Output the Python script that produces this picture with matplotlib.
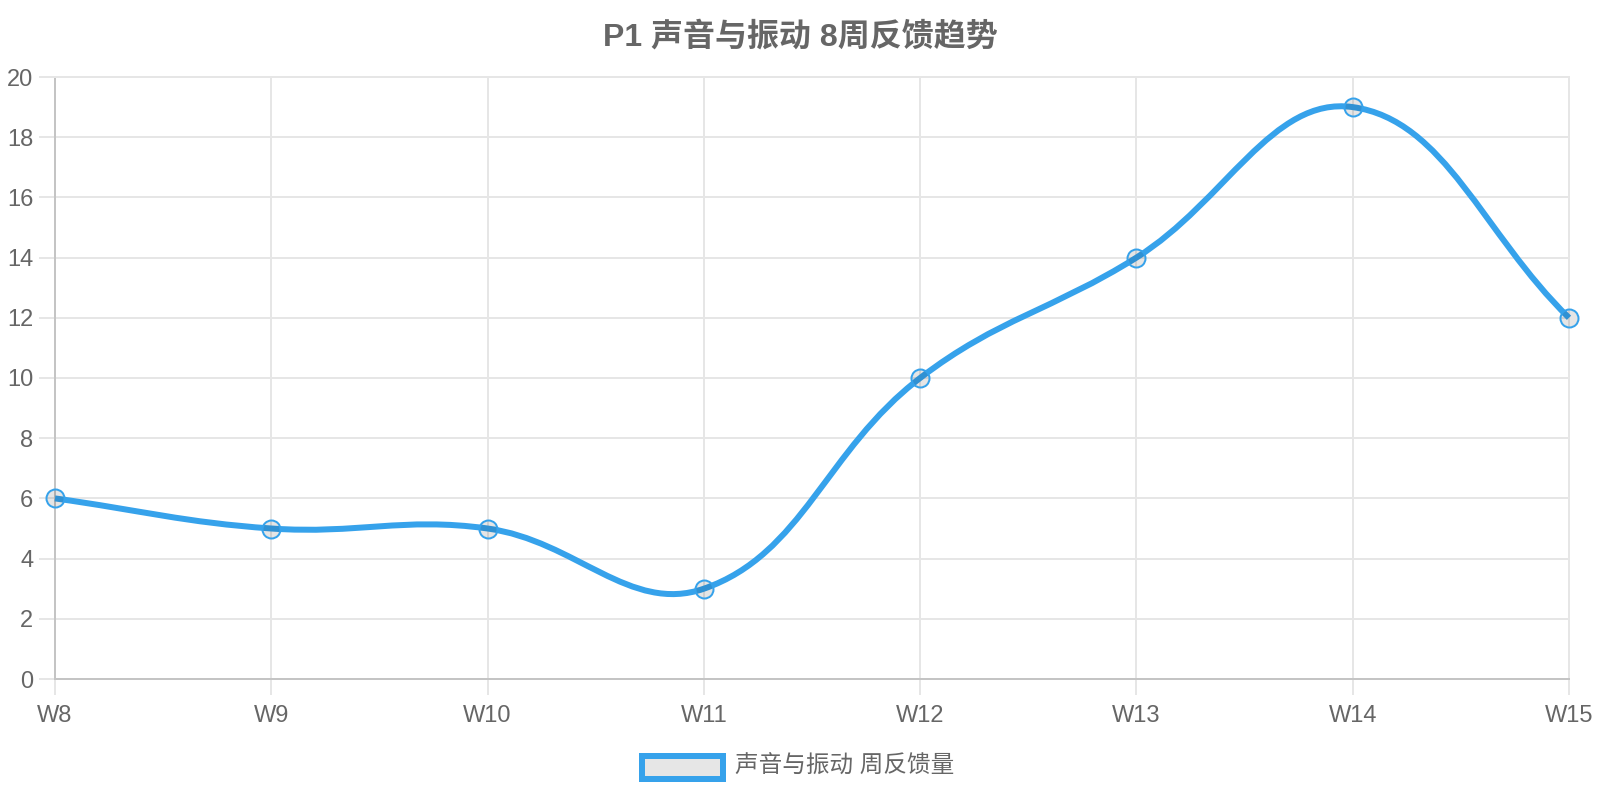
import numpy as np
import matplotlib
matplotlib.use("Agg")
import matplotlib.pyplot as plt
from matplotlib.path import Path
from matplotlib.patches import PathPatch, Rectangle

plt.rcParams['font.family'] = ['Liberation Sans', 'Noto Sans CJK SC', 'DejaVu Sans']

weeks = ['W8', 'W9', 'W10', 'W11', 'W12', 'W13', 'W14', 'W15']
counts = [6, 5, 5, 3, 10, 14, 19, 12]
series_name = '声音与振动 周反馈量'
title = 'P1 声音与振动 8周反馈趋势'

blue = '#36A2EB'
grid_c = '#e6e6e6'
axis_c = '#c4c4c4'
text_c = '#666666'
px = 0.72  # points per pixel at dpi 100

W, H = 1600, 800
fig = plt.figure(figsize=(16, 8), dpi=100)
L, R, T, B = 55, 1569, 77, 679
ax = fig.add_axes([L / W, 1 - B / H, (R - L) / W, (B - T) / H])

x = np.arange(len(weeks))
y = np.array(counts, dtype=float)
ax.set_xlim(0, len(weeks) - 1)
ax.set_ylim(0, 20)


# Chart.js style spline (tension 0.4), computed in pixel space
def spline_path(xd, yd, tension=0.4):
    pts = ax.transData.transform(np.column_stack([xd, yd]))
    n = len(pts)
    ctrl_prev, ctrl_next = [], []
    for i in range(n):
        cur = pts[i]
        prev = pts[i - 1] if i > 0 else cur
        nxt = pts[i + 1] if i < n - 1 else cur
        d01 = np.hypot(*(cur - prev))
        d12 = np.hypot(*(nxt - cur))
        tot = d01 + d12
        s01 = d01 / tot if tot else 0
        s12 = d12 / tot if tot else 0
        cp = cur - tension * s01 * (nxt - prev)
        cn = cur + tension * s12 * (nxt - prev)
        ctrl_prev.append(cp)
        ctrl_next.append(cn)
    bb = ax.bbox
    verts = [pts[0]]
    codes = [Path.MOVETO]
    for i in range(1, n):
        c1 = np.clip(ctrl_next[i - 1], [bb.x0, bb.y0], [bb.x1, bb.y1])
        c2 = np.clip(ctrl_prev[i], [bb.x0, bb.y0], [bb.x1, bb.y1])
        verts += [c1, c2, pts[i]]
        codes += [Path.CURVE4] * 3
    verts = ax.transData.inverted().transform(np.array(verts))
    return Path(verts, codes)


curve = PathPatch(spline_path(x, y), facecolor='none', edgecolor=blue,
                  lw=6 * px, zorder=3, clip_on=False)
ax.add_patch(curve)
ax.plot(x, y, 'o', ms=18 * px, mfc=(0, 0, 0, 0.1), mec=blue, mew=2 * px,
        zorder=4, clip_on=False)

# grid and axes
ax.set_xticks(x)
ax.set_xticklabels(weeks)
ax.set_yticks(np.arange(0, 21, 2))
ax.grid(True, color=grid_c, lw=2 * px, zorder=0)
ax.set_axisbelow(True)
for side in ['top', 'right']:
    ax.spines[side].set_color(grid_c)
    ax.spines[side].set_linewidth(2 * px)
for side in ['left', 'bottom']:
    ax.spines[side].set_color(axis_c)
    ax.spines[side].set_linewidth(2 * px)
ax.tick_params(axis='both', length=16 * px, width=2 * px, color=grid_c,
               labelcolor=text_c, labelsize=17)
ax.tick_params(axis='y', pad=4)
ax.tick_params(axis='x', pad=7)
ax.xaxis.get_major_ticks()[0].tick1line.set_color(axis_c)
ax.yaxis.get_major_ticks()[0].tick1line.set_color(axis_c)

# title
fig.text(0.5, 1 - 37 / H, title, ha='center', va='center', fontsize=23,
         fontweight='bold', color=text_c)

# legend
fig.patches.append(Rectangle((642 / W, 1 - 779 / H), 81 / W, 23 / H,
                             transform=fig.transFigure, facecolor=grid_c,
                             edgecolor=blue, lw=6 * px))
fig.text(735 / W, 1 - 767 / H, series_name, ha='left', va='center',
         fontsize=17, color=text_c)

fig.savefig('out.png', dpi=100)
